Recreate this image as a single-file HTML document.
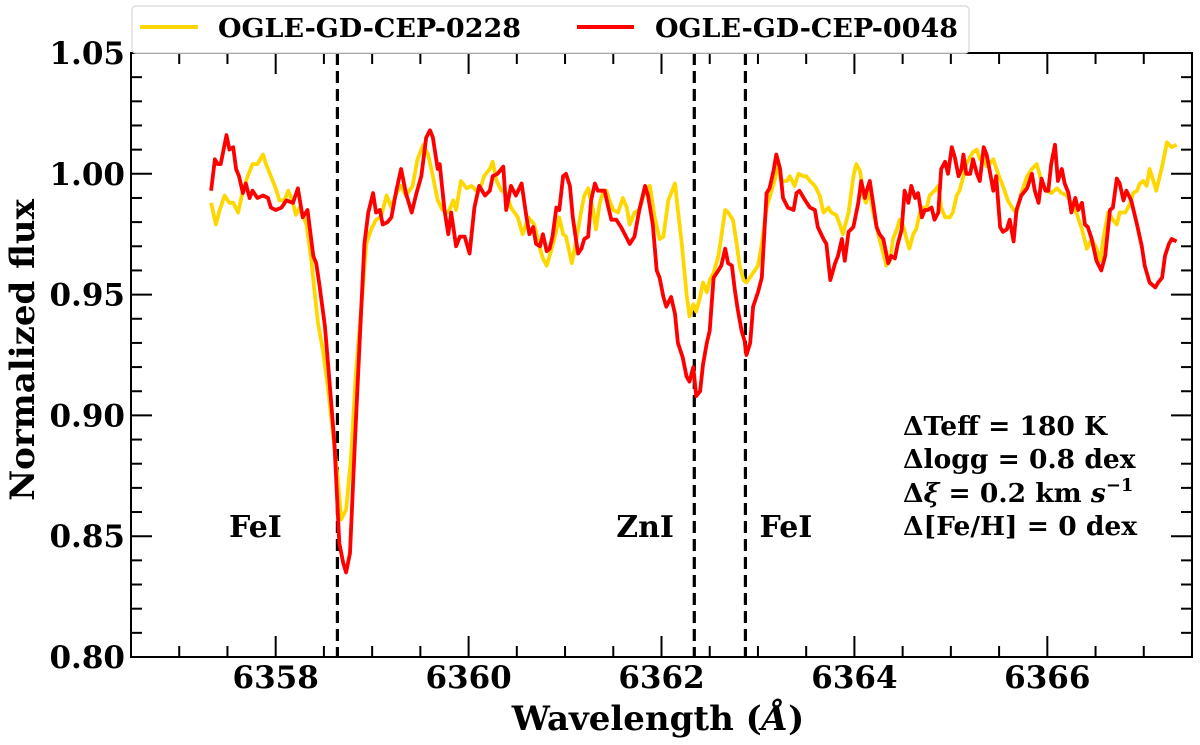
<!DOCTYPE html>
<html><head><meta charset="utf-8"><style>
html,body{margin:0;padding:0;background:#fff;}
svg{display:block;font-family:"DejaVu Serif","Liberation Serif",serif;font-weight:bold;}
</style></head><body>
<svg id="chart" width="1200" height="745" viewBox="0 0 1200 745" xmlns="http://www.w3.org/2000/svg">
<g id="grid"></g>
<g id="series"></g>
<g id="axes"></g>
<g id="legend">
  <rect x="132" y="6" width="837" height="47" rx="4" fill="#fff" stroke="#ddd" stroke-width="1.5"/>
  <line x1="140" y1="27" x2="198" y2="27" stroke="#FFD700" stroke-width="4"/>
  <text x="218" y="37" font-size="26" textLength="303" lengthAdjust="spacingAndGlyphs">OGLE-GD-CEP-0228</text>
  <line x1="577" y1="27" x2="634" y2="27" stroke="#FF0000" stroke-width="4"/>
  <text x="655" y="37" font-size="26" textLength="303" lengthAdjust="spacingAndGlyphs">OGLE-GD-CEP-0048</text>
</g>
<g id="annot" font-size="26.5">
  <text x="903" y="435">ΔTeff = 180 K</text>
  <text x="903" y="468">Δlogg = 0.8 dex</text>
  <text x="903" y="502">Δ<tspan font-style="italic">ξ</tspan> = 0.2 km <tspan font-style="italic">s</tspan><tspan font-size="18" dy="-11">−1</tspan></text>
  <text x="903" y="535">Δ[Fe/H] = 0 dex</text>
</g>
<text x="658" y="730" font-size="34" text-anchor="middle">Wavelength (<tspan font-style="italic">Å</tspan>)</text>
<text x="0" y="0" font-size="34" text-anchor="middle" transform="translate(34,350) rotate(-90)">Normalized flux</text>
</svg>
<script>
const xTicks = [6358, 6360, 6362, 6364, 6366];
const yTicks = [0.80, 0.85, 0.90, 0.95, 1.00, 1.05];
const yTickLabels = ["0.80", "0.85", "0.90", "0.95", "1.00", "1.05"];
const lineWaves = [6358.64, 6362.34, 6362.87];
const lineNames = ["FeI", "ZnI", "FeI"];
const lineLabelWaves = [6357.79, 6361.83, 6363.29];
const lineLabelFlux = [0.85, 0.85, 0.85];

const redWave = [6357.33,6357.37,6357.40,6357.43,6357.49,6357.52,6357.56,6357.59,6357.62,6357.66,6357.69,6357.73,6357.76,6357.81,6357.87,6357.92,6357.95,6358.00,6358.06,6358.11,6358.18,6358.23,6358.28,6358.33,6358.39,6358.42,6358.45,6358.51,6358.56,6358.61,6358.66,6358.70,6358.73,6358.77,6358.82,6358.87,6358.92,6358.96,6359.01,6359.04,6359.08,6359.11,6359.16,6359.20,6359.25,6359.30,6359.35,6359.41,6359.46,6359.51,6359.56,6359.60,6359.63,6359.68,6359.70,6359.75,6359.79,6359.82,6359.87,6359.91,6359.96,6360.01,6360.06,6360.11,6360.17,6360.22,6360.25,6360.30,6360.36,6360.39,6360.44,6360.49,6360.55,6360.60,6360.63,6360.67,6360.70,
6360.74,6360.77,6360.81,6360.84,6360.87,6360.91,6360.94,6360.98,6361.01,6361.05,6361.08,6361.12,6361.135,6361.17,6361.20,6361.24,6361.27,6361.31,6361.34,6361.38,6361.41,6361.45,6361.48,6361.53,6361.58,6361.62,6361.67,6361.72,6361.77,6361.83,6361.86,6361.91,6361.95,6361.98,6362.02,6362.05,6362.10,6362.14,6362.17,6362.22,6362.26,6362.29,6362.33,6362.36,6362.40,6362.43,6362.47,6362.50,6362.54,6362.59,6362.62,6362.66,6362.69,6362.73,6362.76,6362.79,6362.83,6362.86,6362.88,6362.92,6362.95,6363.00,6363.04,6363.09,6363.12,6363.16,6363.19,6363.23,6363.26,6363.31,6363.37,6363.40,6363.43,6363.49,6363.54,6363.59,6363.62,6363.68,6363.71,6363.75,6363.80,6363.83,6363.87,6363.90,6363.94,6363.99,6364.04,
6364.07,6364.11,6364.12,6364.16,6364.19,6364.23,6364.26,6364.30,6364.35,6364.38,6364.42,6364.45,6364.49,6364.52,6364.56,6364.59,6364.63,6364.66,6364.70,6364.73,6364.76,6364.80,6364.83,6364.87,6364.90,6364.94,6364.97,6365.01,6365.04,6365.08,6365.11,6365.13,6365.16,6365.20,6365.23,6365.27,6365.30,6365.34,6365.37,6365.40,6365.44,6365.47,6365.51,6365.54,6365.58,6365.61,6365.65,6365.68,6365.73,6365.79,6365.84,6365.87,6365.91,6365.94,6365.98,6366.01,6366.04,6366.08,6366.11,6366.15,6366.18,6366.22,6366.25,6366.29,6366.32,6366.36,6366.39,6366.42,6366.46,6366.51,6366.56,6366.60,6366.65,6366.68,6366.72,6366.75,6366.79,6366.82,6366.87,6366.93,6366.98,6367.01,6367.06,6367.12,6367.15,6367.19,6367.22,6367.26,6367.29,6367.34];
const redFlux = [0.993,1.006,1.004,1.004,1.016,1.010,1.011,1.002,0.999,0.992,0.996,0.990,0.993,0.990,0.991,0.990,0.986,0.985,0.986,0.989,0.988,0.994,0.982,0.985,0.966,0.963,0.955,0.937,0.913,0.888,0.847,0.839,0.835,0.843,0.888,0.930,0.971,0.984,0.992,0.984,0.985,0.979,0.980,0.982,0.993,1.002,0.992,0.984,0.992,0.999,1.015,1.018,1.015,1.002,1.004,0.985,0.975,0.984,0.970,0.974,0.974,0.967,0.986,0.995,0.991,0.993,0.999,1.000,1.003,0.985,0.995,0.991,0.996,0.982,0.975,0.978,0.971,
0.970,0.975,0.968,0.969,0.974,0.986,0.985,0.999,1.000,0.995,0.982,0.971,0.967,0.969,0.973,0.974,0.989,0.996,0.993,0.993,0.993,0.986,0.981,0.981,0.978,0.975,0.971,0.974,0.985,0.995,0.991,0.979,0.960,0.957,0.949,0.945,0.949,0.942,0.930,0.924,0.916,0.914,0.920,0.908,0.910,0.921,0.930,0.935,0.957,0.960,0.962,0.969,0.963,0.962,0.952,0.944,0.935,0.931,0.925,0.930,0.945,0.951,0.957,0.992,0.994,1.001,1.008,1.002,0.990,0.986,0.985,0.992,0.993,0.989,0.986,0.985,0.978,0.973,0.971,0.956,0.963,0.966,0.973,0.964,0.976,0.978,0.988,
0.997,0.990,0.992,0.997,0.989,0.978,0.975,0.973,0.963,0.966,0.965,0.971,0.977,0.993,0.988,0.995,0.990,0.992,0.982,0.985,0.985,0.986,0.981,0.984,1.002,1.005,1.000,1.011,1.007,0.999,1.002,1.008,1.000,1.000,1.006,1.000,0.997,1.011,1.008,1.002,0.993,0.999,0.978,0.976,0.977,0.981,0.972,0.985,0.991,0.994,1.000,0.993,0.988,0.998,0.993,0.993,1.004,1.012,0.997,1.002,0.996,0.992,0.984,0.990,0.985,0.988,0.979,0.978,0.973,0.964,0.960,0.966,0.985,0.986,0.998,0.996,0.989,0.993,0.989,0.979,0.970,0.962,0.955,0.953,0.955,0.957,0.966,0.971,0.973,0.972];

const yelWave = [6357.33,6357.38,6357.42,6357.47,6357.52,6357.56,6357.61,6357.66,6357.71,6357.76,6357.81,6357.87,6357.90,6357.95,6358.00,6358.04,6358.09,6358.13,6358.18,6358.21,6358.25,6358.32,6358.37,6358.40,6358.44,6358.49,6358.54,6358.59,6358.64,6358.68,6358.73,6358.78,6358.83,6358.89,6358.94,6358.99,6359.04,6359.09,6359.15,6359.20,6359.25,6359.30,6359.35,6359.42,6359.47,6359.53,6359.58,6359.63,6359.68,6359.73,6359.79,6359.84,6359.87,6359.92,6359.98,6360.03,6360.08,6360.13,6360.16,6360.22,6360.25,6360.29,6360.34,6360.39,6360.44,6360.51,6360.56,6360.62,6360.68,
6360.74,6360.77,6360.81,6360.84,6360.89,6360.94,6360.98,6361.01,6361.07,6361.10,6361.135,6361.17,6361.20,6361.24,6361.29,6361.32,6361.36,6361.39,6361.43,6361.46,6361.50,6361.55,6361.60,6361.64,6361.67,6361.72,6361.77,6361.83,6361.88,6361.93,6361.98,6362.02,6362.07,6362.14,6362.17,6362.21,6362.26,6362.29,6362.33,6362.36,6362.40,6362.43,6362.47,6362.50,6362.54,6362.59,6362.62,6362.66,6362.69,6362.74,6362.78,6362.81,6362.85,6362.88,6362.95,6363.00,6363.04,6363.09,6363.14,6363.17,6363.21,6363.24,6363.30,6363.33,6363.38,6363.42,6363.47,6363.50,6363.54,6363.59,6363.64,6363.68,6363.73,6363.76,6363.81,6363.85,6363.88,6363.94,6363.99,6364.02,
6364.06,6364.09,6364.12,6364.16,6364.19,6364.23,6364.26,6364.30,6364.33,6364.37,6364.40,6364.44,6364.47,6364.51,6364.54,6364.57,6364.61,6364.64,6364.68,6364.71,6364.75,6364.78,6364.83,6364.87,6364.90,6364.94,6364.99,6365.02,6365.06,6365.09,6365.13,6365.16,6365.20,6365.23,6365.27,6365.30,6365.34,6365.37,6365.40,6365.44,6365.49,6365.54,6365.59,6365.65,6365.68,6365.73,6365.79,6365.84,6365.89,6365.94,6365.99,6366.04,6366.10,6366.15,6366.20,6366.25,6366.30,6366.36,6366.41,6366.46,6366.51,6366.55,6366.58,6366.63,6366.68,6366.72,6366.75,6366.81,6366.86,6366.89,6366.93,6366.96,6366.995,6367.03,6367.06,6367.10,6367.13,6367.19,6367.22,6367.24,6367.29,6367.34];
const yelFlux = [0.988,0.979,0.985,0.991,0.988,0.988,0.984,0.993,0.999,1.004,1.004,1.008,1.004,0.999,0.994,0.989,0.989,0.993,0.988,0.983,0.986,0.979,0.964,0.952,0.938,0.927,0.912,0.894,0.875,0.857,0.861,0.882,0.916,0.946,0.971,0.977,0.981,0.982,0.991,0.986,0.992,0.995,0.991,0.995,1.006,1.012,1.008,0.999,0.989,0.985,0.984,0.989,0.985,0.997,0.994,0.995,0.993,0.995,0.999,1.002,1.005,0.997,0.993,0.992,0.986,0.982,0.975,0.982,0.979,
0.969,0.965,0.962,0.966,0.973,0.982,0.975,0.974,0.963,0.969,0.977,0.985,0.991,0.994,0.985,0.977,0.988,0.992,0.993,0.989,0.985,0.984,0.990,0.986,0.979,0.984,0.985,0.993,0.995,0.982,0.973,0.974,0.989,0.996,0.985,0.971,0.950,0.941,0.946,0.943,0.949,0.955,0.951,0.956,0.959,0.966,0.974,0.985,0.984,0.981,0.971,0.962,0.956,0.955,0.959,0.962,0.971,0.986,0.993,0.997,1.004,0.997,0.997,0.999,0.995,1.000,0.999,0.999,0.997,0.995,0.991,0.984,0.986,0.984,0.983,0.979,0.975,0.984,0.999,1.004,
1.001,0.991,0.988,0.993,0.985,0.978,0.973,0.967,0.962,0.964,0.973,0.977,0.981,0.978,0.973,0.969,0.975,0.977,0.984,0.986,0.986,0.991,0.993,0.995,0.986,0.982,0.982,0.984,0.991,0.993,0.999,1.004,1.007,1.009,1.010,1.006,1.007,1.003,1.004,1.006,1.000,0.995,0.989,0.985,0.984,0.992,0.999,1.002,1.004,0.997,0.993,0.992,0.994,0.992,0.991,0.988,0.984,0.977,0.969,0.973,0.969,0.964,0.973,0.984,0.981,0.979,0.984,0.984,0.988,0.992,0.993,0.996,0.997,0.995,1.002,0.997,0.993,1.003,1.009,1.013,1.011,1.012];

const X0 = 131, X1 = 1192, Y0 = 657, Y1 = 53;
const XMIN = 6356.5, XMAX = 6367.5, YMIN = 0.80, YMAX = 1.05;
function sx(w){ return X0 + (w - XMIN) / (XMAX - XMIN) * (X1 - X0); }
function sy(f){ return Y0 - (f - YMIN) / (YMAX - YMIN) * (Y0 - Y1); }
const NS = "http://www.w3.org/2000/svg";
function mk(tag, attrs, parent){
  const e = document.createElementNS(NS, tag);
  for (const k in attrs) e.setAttribute(k, attrs[k]);
  parent.appendChild(e);
  return e;
}
const grid = document.getElementById('grid');
const series = document.getElementById('series');
const axes = document.getElementById('axes');

lineWaves.forEach((w, i) => {
  const l = mk('line', {x1: sx(w), x2: sx(w), y1: Y1, y2: Y0, stroke: '#000', 'stroke-width': 3.2, 'stroke-dasharray': '12,6'}, grid);
  
  
  const t = mk('text', {x: sx(lineLabelWaves[i]), y: sy(lineLabelFlux[i]) + 1, 'font-size': 30, 'text-anchor': 'middle'}, grid);
  t.textContent = lineNames[i];
  
  
});

function path(ws, fs){
  return ws.map((w, i) => (i ? 'L' : 'M') + sx(w).toFixed(1) + ',' + sy(fs[i]).toFixed(1)).join('');
}
const py = mk('path', {d: path(yelWave, yelFlux), fill: 'none', stroke: '#FFD700', 'stroke-width': 3.8, 'stroke-linejoin': 'round'}, series);


const pr = mk('path', {d: path(redWave, redFlux), fill: 'none', stroke: '#FF0000', 'stroke-width': 3.8, 'stroke-linejoin': 'round'}, series);



const fr = mk('rect', {x: X0, y: Y1, width: X1 - X0, height: Y0 - Y1, fill: 'none', stroke: '#000', 'stroke-width': 2}, axes);



for (let k = 0; k <= 22; k++) {
  const w = XMIN + k * 0.5;
  const major = xTicks.indexOf(w) >= 0;
  const len = major ? 21 : 11;
  const x = sx(w);
  mk('line', {x1: x, x2: x, y1: Y0, y2: Y0 - len, stroke: '#000', 'stroke-width': 2}, axes);
  mk('line', {x1: x, x2: x, y1: Y1, y2: Y1 + len, stroke: '#000', 'stroke-width': 2}, axes);
}
xTicks.forEach(w => {
  const t = mk('text', {x: sx(w), y: 688, 'font-size': 31, 'text-anchor': 'middle'}, axes);
  t.textContent = String(w);
  
  
});
for (let k = 0; k <= 25; k++) {
  const f = YMIN + k * 0.01;
  const major = (k % 5 === 0);
  const len = major ? 21 : 11;
  const y = sy(f);
  mk('line', {x1: X0, x2: X0 + len, y1: y, y2: y, stroke: '#000', 'stroke-width': 2}, axes);
  mk('line', {x1: X1, x2: X1 - len, y1: y, y2: y, stroke: '#000', 'stroke-width': 2}, axes);
}
yTicks.forEach((f, i) => {
  const t = mk('text', {x: 125, y: sy(f) + 11, 'font-size': 31, 'text-anchor': 'end'}, axes);
  t.textContent = yTickLabels[i];
  
  
});
</script>
</body></html>
